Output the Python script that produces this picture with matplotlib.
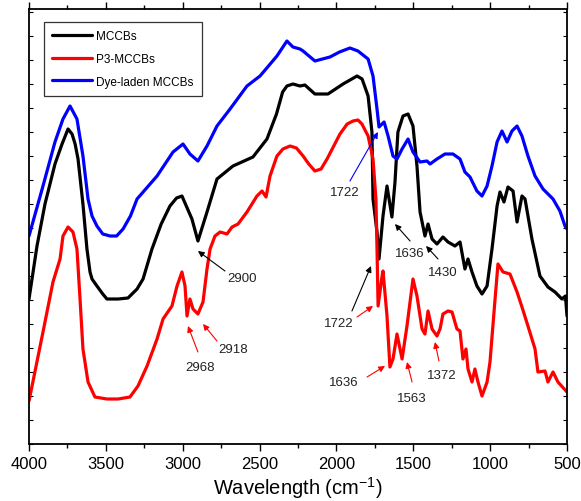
import matplotlib
matplotlib.use("Agg")
import matplotlib.pyplot as plt
from matplotlib.ticker import MultipleLocator, FixedLocator, NullFormatter

plt.rcParams['font.family'] = ['Liberation Sans', 'DejaVu Sans']

# ---------------- data (wavenumber cm^-1, arbitrary intensity) ----------------
mccb_w = [4000, 3948, 3896, 3831, 3785, 3746, 3720, 3700, 3681, 3649, 3623, 3603, 3590, 3558,
          3520, 3493, 3420, 3356, 3297, 3258, 3200, 3140, 3083, 3040, 3005, 2940, 2901, 2842,
          2777, 2673, 2543, 2452, 2390, 2350, 2322, 2283, 2237, 2205, 2140, 2055, 1957, 1866,
          1833, 1794, 1769, 1762, 1736, 1723, 1697, 1671, 1639, 1619, 1600, 1567, 1534, 1502,
          1476, 1456, 1424, 1404, 1378, 1346, 1307, 1274, 1229, 1196, 1164, 1144, 1118, 1086,
          1053, 1020, 988, 955, 936, 910, 884, 851, 825, 793, 773, 728, 676, 624, 578, 533,
          510, 500]
mccb_v = [145, 198, 240, 280, 300, 315, 310, 300, 285, 240, 195, 172, 165, 158,
          150, 145, 145, 146, 155, 165, 195, 220, 238, 246, 248, 225, 203, 232,
          265, 278, 287, 305, 330, 352, 358, 360, 358, 359, 350, 350, 360, 368,
          365, 348, 312, 245, 212, 185, 228, 258, 227, 262, 312, 328, 330, 318,
          278, 232, 208, 220, 205, 200, 207, 202, 198, 202, 175, 185, 172, 158,
          150, 158, 195, 238, 252, 242, 257, 253, 222, 248, 245, 205, 168, 157, 152, 145,
          148, 128]

p3_w = [4000, 3909, 3844, 3798, 3779, 3746, 3714, 3688, 3668, 3649, 3616, 3571, 3493, 3420,
        3343, 3291, 3232, 3167, 3128, 3070, 3037, 3005, 2985, 2972, 2953, 2933, 2901, 2868,
        2842, 2822, 2790, 2757, 2712, 2679, 2640, 2582, 2517, 2484, 2458, 2432, 2387, 2348,
        2302, 2260, 2217, 2180, 2140, 2100, 2061, 1977, 1930, 1892, 1860, 1834, 1794, 1762,
        1743, 1736, 1729, 1703, 1697, 1671, 1652, 1632, 1606, 1573, 1541, 1502, 1476, 1443,
        1424, 1404, 1378, 1346, 1326, 1307, 1274, 1248, 1216, 1196, 1177, 1157, 1144, 1118,
        1099, 1079, 1053, 1020, 1001, 968, 949, 916, 871, 825, 793, 754, 708, 689, 643, 624,
        591, 559, 500]
p3_v = [43, 112, 162, 185, 208, 217, 212, 195, 145, 95, 62, 47, 45, 45,
        47, 58, 78, 105, 125, 138, 158, 172, 158, 128, 145, 135, 130, 142,
        175, 195, 208, 212, 210, 217, 220, 232, 248, 253, 247, 268, 288, 295,
        298, 296, 288, 280, 273, 275, 285, 310, 320, 323, 324, 320, 308, 285,
        245, 195, 138, 168, 173, 128, 77, 85, 110, 85, 118, 165, 148, 115,
        110, 133, 115, 108, 115, 130, 133, 132, 115, 113, 85, 95, 75, 62,
        75, 62, 48, 62, 82, 145, 180, 172, 170, 152, 137, 118, 95, 72, 73, 62,
        72, 62, 52]

dye_w = [4000, 3909, 3831, 3779, 3733, 3688, 3649, 3616, 3590, 3558, 3520, 3473, 3430, 3388,
         3340, 3297, 3167, 3063, 2998, 2953, 2901, 2842, 2777, 2692, 2582, 2497, 2387, 2322,
         2283, 2237, 2217, 2140, 2042, 1980, 1912, 1860, 1794, 1762, 1736, 1723, 1690, 1664,
         1632, 1606, 1573, 1534, 1502, 1456, 1411, 1391, 1346, 1294, 1242, 1196, 1164, 1131,
         1086, 1053, 1020, 988, 955, 923, 890, 858, 825, 793, 754, 708, 656, 591, 546, 513, 500]
dye_v = [208, 258, 302, 325, 338, 325, 288, 245, 228, 218, 210, 208, 208, 215,
         228, 245, 268, 292, 300, 290, 283, 298, 318, 335, 358, 368, 388, 403,
         397, 395, 393, 383, 387, 392, 396, 393, 385, 368, 335, 317, 322, 308,
         288, 285, 295, 305, 292, 282, 283, 280, 285, 290, 290, 285, 272, 267,
         253, 248, 258, 278, 302, 313, 302, 313, 318, 308, 288, 268, 255, 245, 233, 218, 215]

series_labels = ["MCCBs", "P3-MCCBs", "Dye-laden MCCBs"]
series_colors = ["black", "#ff0000", "#0000ff"]

# annotations: (text, text_pos, [(tail, head, color), ...])
annotations = [
    ("2900", (2614, 166), [((2725, 173), (2901, 193), "black")]),
    ("2918", (2673, 95), [((2777, 103), (2868, 120), "red")]),
    ("2968", (2888, 77), [((2901, 92), (2966, 118), "red")]),
    ("1722", (1944, 252), [((1912, 263), (1730, 312), "blue")]),
    ("1722", (1983, 121), [((1899, 133), (1775, 178), "black"),
                           ((1866, 127), (1762, 138), "red")]),
    ("1636", (1951, 62), [((1801, 67), (1684, 78), "red")]),
    ("1563", (1508, 46), [((1508, 62), (1541, 82), "red")]),
    ("1372", (1313, 69), [((1333, 83), (1359, 102), "red")]),
    ("1636", (1521, 191), [((1521, 203), (1619, 220), "black")]),
    ("1430", (1307, 172), [((1339, 185), (1417, 198), "black")]),
]

# ---------------- figure ----------------
fig = plt.figure(figsize=(5.81, 5.02), dpi=100)
ax = fig.add_axes([29 / 581, 1 - 445 / 502, 538 / 581, 435 / 502])

for w, v, lab, col in zip([mccb_w, p3_w, dye_w], [mccb_v, p3_v, dye_v], series_labels, series_colors):
    ax.plot(w, v, color=col, lw=2.3, label=lab, solid_joinstyle='round', solid_capstyle='round')

for txt, tpos, arrows in annotations:
    ax.text(tpos[0], tpos[1], txt, fontsize=9.5, ha='center', va='center', color='#222222')
    for tail, head, col in arrows:
        ax.annotate('', xy=head, xytext=tail,
                    arrowprops=dict(arrowstyle='-|>', color=col, lw=0.8,
                                    mutation_scale=9, shrinkA=0, shrinkB=0))

ax.set_xlim(4000, 500)
ax.set_ylim(0, 435)
ax.xaxis.set_major_locator(MultipleLocator(500))
ax.xaxis.set_minor_locator(MultipleLocator(250))
ax.yaxis.set_major_locator(FixedLocator([]))
ax.yaxis.set_minor_locator(MultipleLocator(24))
ax.yaxis.set_minor_formatter(NullFormatter())

ax.tick_params(axis='x', which='major', direction='out', length=5, width=1, labelsize=12,
               top=True, pad=4)
ax.tick_params(axis='x', which='minor', direction='out', length=3, width=1, top=True)
ax.tick_params(axis='y', which='minor', direction='in', length=3, width=0.8, left=True, right=True)
for s in ax.spines.values():
    s.set_linewidth(1.3)

ax.set_xlabel("Wavelength (cm$^{\\mathregular{-1}}$)", fontsize=14.5, labelpad=2)

leg = ax.legend(loc='upper left', bbox_to_anchor=(0.028, 0.97), fontsize=8.5, frameon=True,
                fancybox=False, edgecolor='black', handlelength=3.4, borderpad=0.7,
                labelspacing=0.9, handletextpad=0.3, borderaxespad=0)
leg.get_frame().set_linewidth(0.9)

fig.savefig("out.png", dpi=100)
